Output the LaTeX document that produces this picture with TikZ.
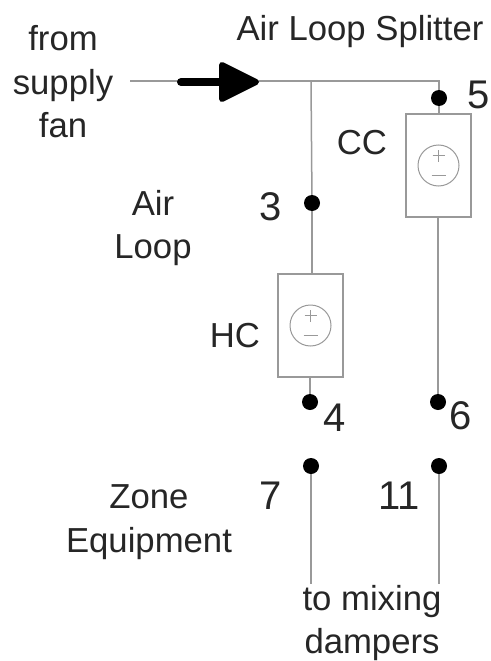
\documentclass[tikz,border=0pt]{standalone}
\usepackage{fontspec}
\setmainfont{Liberation Sans}
\begin{document}
\begin{tikzpicture}[x=1pt,y=-1pt,
  wire/.style={draw=black!40,line width=1.5pt},
  dotn/.style={circle,fill=black,inner sep=0pt,minimum size=16pt},
  coil/.style={rectangle,draw=black!40,line width=1.5pt,fill=white,minimum width=65pt,minimum height=103pt,inner sep=0pt},
  srcn/.style={circle,draw=black!40,line width=1pt,fill=white,minimum size=41pt,inner sep=0pt},
  lab/.style={font=\fontsize{34.7}{43.5}\selectfont,text=black!85,inner sep=0pt,align=center},
  num/.style={font=\fontsize{40}{46}\selectfont,text=black!85,inner sep=0pt}]
\useasboundingbox (0,0) rectangle (490,661);
\fill[white] (0,0) rectangle (490,661);
\coordinate (start) at (130,81);
\coordinate (tee) at (311,81);
\coordinate (corner) at (439,81);
\node[dotn] (d3) at (312,203) {};
\node[dotn] (d5) at (439,98) {};
\node[dotn] (d4) at (310,402) {};
\node[dotn] (d6) at (438,402) {};
\node[dotn] (d7) at (311,466) {};
\node[dotn] (d11) at (439,466) {};
\node[coil] (hc) at (310.5,325.5) {};
\node[coil] (cc) at (438.5,165.5) {};
\coordinate (end7) at (311,584);
\coordinate (end11) at (439,584);
\draw[wire] (start) -- (corner) -- (d5);
\draw[wire] (d5) -- (cc.north -| d5);
\draw[wire] (tee) -- (d3);
\draw[wire] (d3) -- (hc.north -| d3);
\draw[wire] (hc.south -| d4) -- (d4);
\draw[wire] (cc.south -| d6) -- (d6);
\draw[wire] (d7) -- (end7);
\draw[wire] (d11) -- (end11);
\foreach \b/\n in {hc/s1,cc/s2}{
  \node[srcn] (\n) at (\b) {};
  \draw[black!40,line width=1pt] ([yshift=4pt]\n.center) -- ([yshift=16pt]\n.center);
  \draw[black!40,line width=1pt] ([xshift=-6pt,yshift=10pt]\n.center) -- ([xshift=6pt,yshift=10pt]\n.center);
  \draw[black!40,line width=1.2pt] ([xshift=-7pt,yshift=-10pt]\n.center) -- ([xshift=7pt,yshift=-10pt]\n.center);
}
\coordinate (as) at (181,82);
\coordinate (ae) at (225,82);
\draw[black,line width=8pt,line cap=round] (as) -- (ae);
\fill[black,draw=black,line width=6pt,line join=round] (222,65) -- (256,82) -- (222,99) -- cycle;
\node[lab] (t1) at (360,32) {Air Loop Splitter};
\node[lab] (t2) at (63,82) {from\\supply\\fan};
\node[lab] (t3) at (153,228) {Air\\Loop};
\node[lab] (t4) at (362,143) {CC};
\node[lab] (t5) at (235,336) {HC};
\node[lab] (t6) at (149,522) {Zone\\Equipment};
\node[lab] (t7) at (372,623) {to mixing\\dampers};
\node[num] (n3) at (271,207) {3};
\node[num] (n5) at (479,95) {5};
\node[num] (n4) at (335,418) {4};
\node[num] (n6) at (461,416) {6};
\node[num] (n7) at (271,496) {7};
\node[num] (n11) at (399,496) {11};
\end{tikzpicture}
\end{document}
